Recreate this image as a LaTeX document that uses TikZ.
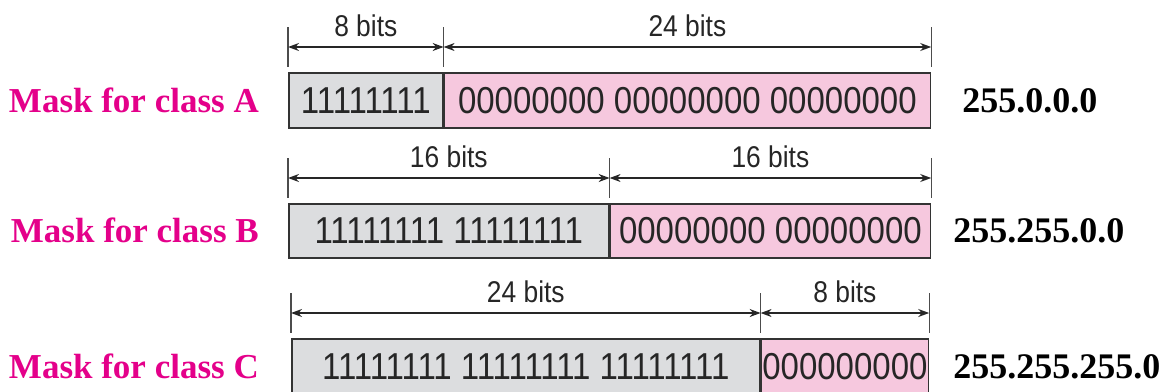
\documentclass[tikz,border=0pt]{standalone}
\usepackage{fontspec}
\setmainfont{Liberation Serif}
\setsansfont{Liberation Sans}
\newfontfamily\bitfont[FakeStretch=0.88]{Liberation Sans}
\usetikzlibrary{positioning,arrows.meta,calc}
\definecolor{maskpink}{RGB}{228,0,138}
\definecolor{zerofill}{RGB}{246,200,222}
\definecolor{onefill}{RGB}{220,221,223}

\begin{document}
\begin{tikzpicture}[
  x=1pt, y=-1pt,
  ones/.style={
    draw=black!80, line width=1.6pt, fill=onefill,
    minimum height=55pt, inner sep=0pt, anchor=north west,
    font=\bitfont\fontsize{37.5}{40}\selectfont, text=black!85
  },
  zeros/.style={ones, fill=zerofill},
  cls/.style={font=\bfseries\fontsize{35}{38}\selectfont, text=maskpink, inner sep=0pt},
  val/.style={font=\bfseries\fontsize{36}{38}\selectfont, inner sep=0pt, anchor=west},
  bits/.style={midway, above=9pt, inner sep=0pt, font=\bitfont\fontsize{30}{32}\selectfont, text=black!85},
  dim/.style={{Stealth[length=11pt,width=8pt]}-{Stealth[length=11pt,width=8pt]}, line width=1.5pt, black!85},
  tick/.style={line width=1.2pt, black!70}
]
  \useasboundingbox (0,0) rectangle (1166,391);

  % Class A: 8 + 24 bits
  \node[ones, minimum width=154pt] (a1) at (288,72) {11111111};
  \node[zeros, minimum width=486pt] (a2) at (a1.north east) {00000000 00000000 00000000};
  \node[cls, left=29pt of a1] (ca) {Mask for class A};
  \node[val, right=31pt of a2] (va) {255.0.0.0};

  \coordinate (aL) at ([yshift=25pt]a1.north west);
  \coordinate (aM) at ([yshift=25pt]a1.north east);
  \coordinate (aR) at ([yshift=25pt]a2.north east);
  \draw[tick] ([yshift=20pt]aL) -- ([yshift=-20pt]aL);
  \draw[tick] ([yshift=20pt]aM) -- ([yshift=-20pt]aM);
  \draw[tick] ([yshift=20pt]aR) -- ([yshift=-20pt]aR);
  \draw[dim] (aL) -- (aM) node[bits] {8 bits};
  \draw[dim] (aM) -- (aR) node[bits] {24 bits};

  % Class B: 16 + 16 bits
  \node[ones, minimum width=320pt, minimum height=54pt] (b1) at (288,203) {11111111 11111111};
  \node[zeros, minimum width=320pt, minimum height=54pt] (b2) at (b1.north east) {00000000 00000000};
  \node[cls, left=29pt of b1] (cb) {Mask for class B};
  \node[val, right=22pt of b2] (vb) {255.255.0.0};

  \coordinate (bL) at ([yshift=25pt]b1.north west);
  \coordinate (bM) at ([yshift=25pt]b1.north east);
  \coordinate (bR) at ([yshift=25pt]b2.north east);
  \draw[tick] ([yshift=20pt]bL) -- ([yshift=-20pt]bL);
  \draw[tick] ([yshift=20pt]bM) -- ([yshift=-20pt]bM);
  \draw[tick] ([yshift=20pt]bR) -- ([yshift=-20pt]bR);
  \draw[dim] (bL) -- (bM) node[bits] {16 bits};
  \draw[dim] (bM) -- (bR) node[bits] {16 bits};

  % Class C: 24 + 8 bits
  \node[ones, minimum width=468pt] (c1) at (291,338) {11111111 11111111 11111111};
  \node[zeros, minimum width=167pt] (c2) at (c1.north east) {000000000};
  \node[cls, left=32pt of c1] (cc) {Mask for class C};
  \node[val, right=24pt of c2] (vc) {255.255.255.0};

  \coordinate (cL) at ([yshift=25pt]c1.north west);
  \coordinate (cM) at ([yshift=25pt]c1.north east);
  \coordinate (cR) at ([yshift=25pt]c2.north east);
  \draw[tick] ([yshift=20pt]cL) -- ([yshift=-20pt]cL);
  \draw[tick] ([yshift=20pt]cM) -- ([yshift=-20pt]cM);
  \draw[tick] ([yshift=20pt]cR) -- ([yshift=-20pt]cR);
  \draw[dim] (cL) -- (cM) node[bits] {24 bits};
  \draw[dim] (cM) -- (cR) node[bits] {8 bits};
\end{tikzpicture}
\end{document}
